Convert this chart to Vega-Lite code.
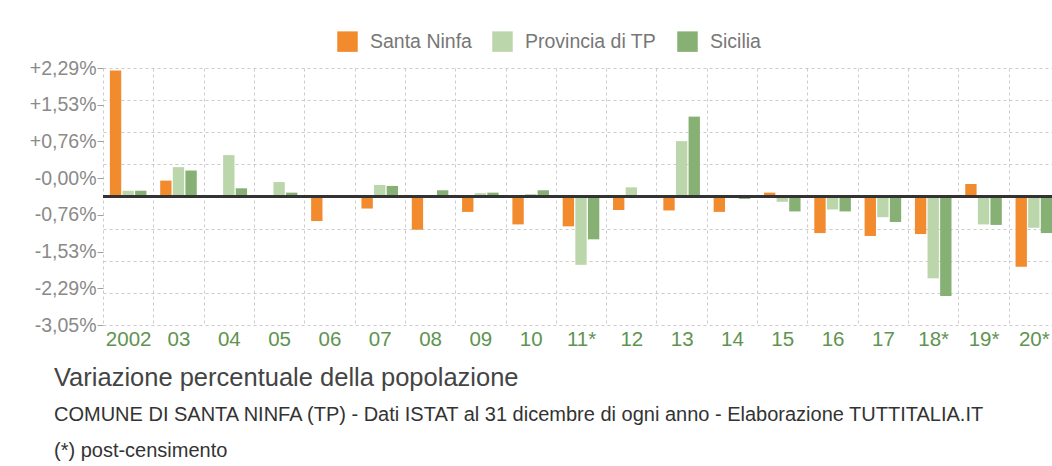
{
  "$schema": "https://vega.github.io/schema/vega-lite/v6.json",
  "autosize": "none",
  "width": 949,
  "height": 257,
  "padding": {"left": 103, "top": 68, "right": 0, "bottom": 141},
  "background": "white",
  "config": {
    "view": {"stroke": null},
    "font": "Liberation Sans, Arial, sans-serif"
  },
  "title": {
    "text": "Variazione percentuale della popolazione",
    "subtitle": [
      "COMUNE DI SANTA NINFA (TP) - Dati ISTAT al 31 dicembre di ogni anno - Elaborazione TUTTITALIA.IT",
      "(*) post-censimento"
    ],
    "orient": "bottom",
    "anchor": "start",
    "frame": "group",
    "dx": -49,
    "offset": 16,
    "fontSize": 25.5,
    "fontWeight": "normal",
    "color": "#444444",
    "subtitleFontSize": 20,
    "subtitleColor": "#333333",
    "subtitleLineHeight": 36,
    "subtitlePadding": 14
  },
  "data": {
    "values": [
      {"anno": "2002", "serie": "Santa Ninfa", "valore": 2.62},
      {"anno": "2002", "serie": "Provincia di TP", "valore": 0.12},
      {"anno": "2002", "serie": "Sicilia", "valore": 0.12},
      {"anno": "03", "serie": "Santa Ninfa", "valore": 0.33},
      {"anno": "03", "serie": "Provincia di TP", "valore": 0.61},
      {"anno": "03", "serie": "Sicilia", "valore": 0.54},
      {"anno": "04", "serie": "Santa Ninfa", "valore": -0.03},
      {"anno": "04", "serie": "Provincia di TP", "valore": 0.86},
      {"anno": "04", "serie": "Sicilia", "valore": 0.17},
      {"anno": "05", "serie": "Santa Ninfa", "valore": 0.0},
      {"anno": "05", "serie": "Provincia di TP", "valore": 0.30},
      {"anno": "05", "serie": "Sicilia", "valore": 0.08},
      {"anno": "06", "serie": "Santa Ninfa", "valore": -0.51},
      {"anno": "06", "serie": "Provincia di TP", "valore": 0.02},
      {"anno": "06", "serie": "Sicilia", "valore": 0.01},
      {"anno": "07", "serie": "Santa Ninfa", "valore": -0.25},
      {"anno": "07", "serie": "Provincia di TP", "valore": 0.24},
      {"anno": "07", "serie": "Sicilia", "valore": 0.22},
      {"anno": "08", "serie": "Santa Ninfa", "valore": -0.69},
      {"anno": "08", "serie": "Provincia di TP", "valore": 0.01},
      {"anno": "08", "serie": "Sicilia", "valore": 0.13},
      {"anno": "09", "serie": "Santa Ninfa", "valore": -0.32},
      {"anno": "09", "serie": "Provincia di TP", "valore": 0.07},
      {"anno": "09", "serie": "Sicilia", "valore": 0.08},
      {"anno": "10", "serie": "Santa Ninfa", "valore": -0.58},
      {"anno": "10", "serie": "Provincia di TP", "valore": 0.05},
      {"anno": "10", "serie": "Sicilia", "valore": 0.13},
      {"anno": "11*", "serie": "Santa Ninfa", "valore": -0.62},
      {"anno": "11*", "serie": "Provincia di TP", "valore": -1.42},
      {"anno": "11*", "serie": "Sicilia", "valore": -0.89},
      {"anno": "12", "serie": "Santa Ninfa", "valore": -0.28},
      {"anno": "12", "serie": "Provincia di TP", "valore": 0.19},
      {"anno": "12", "serie": "Sicilia", "valore": 0.01},
      {"anno": "13", "serie": "Santa Ninfa", "valore": -0.29},
      {"anno": "13", "serie": "Provincia di TP", "valore": 1.15},
      {"anno": "13", "serie": "Sicilia", "valore": 1.66},
      {"anno": "14", "serie": "Santa Ninfa", "valore": -0.32},
      {"anno": "14", "serie": "Provincia di TP", "valore": -0.02},
      {"anno": "14", "serie": "Sicilia", "valore": -0.05},
      {"anno": "15", "serie": "Santa Ninfa", "valore": 0.08},
      {"anno": "15", "serie": "Provincia di TP", "valore": -0.11},
      {"anno": "15", "serie": "Sicilia", "valore": -0.31},
      {"anno": "16", "serie": "Santa Ninfa", "valore": -0.76},
      {"anno": "16", "serie": "Provincia di TP", "valore": -0.27},
      {"anno": "16", "serie": "Sicilia", "valore": -0.31},
      {"anno": "17", "serie": "Santa Ninfa", "valore": -0.82},
      {"anno": "17", "serie": "Provincia di TP", "valore": -0.43},
      {"anno": "17", "serie": "Sicilia", "valore": -0.53},
      {"anno": "18*", "serie": "Santa Ninfa", "valore": -0.78},
      {"anno": "18*", "serie": "Provincia di TP", "valore": -1.70},
      {"anno": "18*", "serie": "Sicilia", "valore": -2.07},
      {"anno": "19*", "serie": "Santa Ninfa", "valore": 0.26},
      {"anno": "19*", "serie": "Provincia di TP", "valore": -0.58},
      {"anno": "19*", "serie": "Sicilia", "valore": -0.59},
      {"anno": "20*", "serie": "Santa Ninfa", "valore": -1.46},
      {"anno": "20*", "serie": "Provincia di TP", "valore": -0.65},
      {"anno": "20*", "serie": "Sicilia", "valore": -0.76}
    ]
  },
  "layer": [
    {
      "mark": {"type": "bar"},
      "encoding": {
        "x": {
          "field": "anno",
          "type": "nominal",
          "sort": null,
          "scale": {"range": [0, 956], "paddingInner": 0, "paddingOuter": 0},
          "axis": {
            "title": null,
            "orient": "bottom",
            "labelAngle": 0,
            "labelFontSize": 20.5,
            "labelColor": "#5E9450",
            "labelPadding": 4,
            "domain": false,
            "ticks": false,
            "tickBand": "extent",
            "grid": true,
            "gridColor": "#cccccc",
            "gridDash": [3, 3],
            "gridWidth": 1
          }
        },
        "xOffset": {
          "field": "serie",
          "type": "nominal",
          "sort": ["Santa Ninfa", "Provincia di TP", "Sicilia"],
          "scale": {"paddingInner": 0.1, "paddingOuter": 0.545}
        },
        "y": {
          "field": "valore",
          "type": "quantitative",
          "scale": {"domain": [-2.67, 2.67], "nice": false, "zero": false},
          "axis": {
            "title": null,
            "orient": "left",
            "values": [2.67, 1.9071, 1.1443, 0.3814, -0.3814, -1.1443, -1.9071, -2.67],
            "labelExpr": "datum.value > 2.5 ? '+2,29%' : datum.value > 1.5 ? '+1,53%' : datum.value > 1 ? '+0,76%' : datum.value > 0 ? '-0,00%' : datum.value > -0.5 ? '-0,76%' : datum.value > -1.5 ? '-1,53%' : datum.value > -2.5 ? '-2,29%' : '-3,05%'",
            "labelFontSize": 19.5,
            "labelColor": "#8a8a8a",
            "labelPadding": 1,
            "ticks": true,
            "tickSize": 6,
            "tickColor": "#a0a0a0",
            "domain": false,
            "grid": false
          }
        },
        "color": {
          "field": "serie",
          "type": "nominal",
          "sort": ["Santa Ninfa", "Provincia di TP", "Sicilia"],
          "scale": {
            "domain": ["Santa Ninfa", "Provincia di TP", "Sicilia"],
            "range": ["#F28A2E", "#BCD6AB", "#86B074"]
          },
          "legend": {
            "title": null,
            "orient": "none",
            "legendX": 234,
            "legendY": -37,
            "direction": "horizontal",
            "symbolType": "square",
            "symbolSize": 420,
            "symbolStrokeWidth": 0,
            "labelFontSize": 19.5,
            "labelColor": "#777777",
            "labelOffset": 12,
            "columnPadding": 20
          }
        }
      }
    },
    {
      "mark": {"type": "rule", "color": "#333333", "strokeWidth": 2},
      "encoding": {
        "y": {
          "datum": 0,
          "type": "quantitative",
          "axis": {
            "title": null,
            "orient": "left",
            "values": [2.67, 2.0025, 1.335, 0.6675, 0, -0.6675, -1.335, -2.0025, -2.67],
            "labels": false,
            "ticks": false,
            "domain": false,
            "grid": true,
            "gridColor": "#cccccc",
            "gridDash": [3, 3],
            "gridWidth": 1
          }
        }
      }
    }
  ],
  "resolve": {"axis": {"y": "independent"}}
}
